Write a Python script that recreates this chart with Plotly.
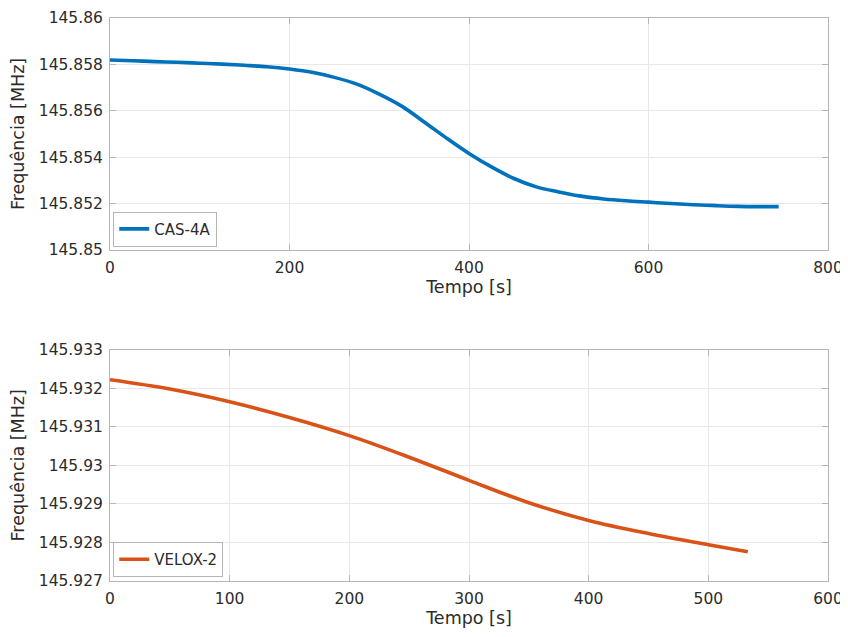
import plotly.graph_objects as go
from plotly.subplots import make_subplots

# CAS-4A data (time in s, frequency in MHz)
cas_t = [0, 25, 50, 75, 100, 125, 150, 175, 200, 225, 250, 275, 300, 325, 350, 375,
         400, 425, 450, 475, 500, 525, 550, 575, 600, 625, 650, 675, 700, 725, 745]
cas_f = [145.85819, 145.85816, 145.85812, 145.85809, 145.85805, 145.85801, 145.85796,
         145.85790, 145.85780, 145.85766, 145.85744, 145.85715, 145.85672, 145.85620,
         145.85552, 145.85482, 145.85416, 145.85358, 145.85308, 145.85272, 145.85250,
         145.85232, 145.85220, 145.85212, 145.85206, 145.85200, 145.85195, 145.85191,
         145.85188, 145.85187, 145.85187]

# VELOX-2 data
vel_t = [0, 50, 100, 150, 200, 250, 300, 350, 400, 450, 500, 533]
vel_f = [145.93222, 145.93198, 145.93165, 145.93124, 145.93077, 145.93021, 145.92961,
         145.92903, 145.92857, 145.92823, 145.92794, 145.92776]

top_ticks = [145.85, 145.852, 145.854, 145.856, 145.858, 145.86]
top_tick_text = ["145.85", "145.852", "145.854", "145.856", "145.858", "145.86"]
bot_ticks = [145.927, 145.928, 145.929, 145.930, 145.931, 145.932, 145.933]
bot_tick_text = ["145.927", "145.928", "145.929", "145.93", "145.931", "145.932", "145.933"]
top_xticks = [0, 200, 400, 600, 800]
bot_xticks = [0, 100, 200, 300, 400, 500, 600]

TXT = "#2b2b2b"
fig = make_subplots(rows=2, cols=1)

fig.add_trace(go.Scatter(x=cas_t, y=cas_f, mode="lines", name="CAS-4A",
                         line=dict(color="#0072BD", width=3.6, shape="spline", smoothing=1.0),
                         legend="legend"), row=1, col=1)
fig.add_trace(go.Scatter(x=vel_t, y=vel_f, mode="lines", name="VELOX-2",
                         line=dict(color="#D95319", width=3.6, shape="spline", smoothing=1.0),
                         legend="legend2"), row=2, col=1)

axis_common = dict(showgrid=True, gridcolor="#e8e8e8", gridwidth=1,
                   showline=True, linecolor="#b5b5b5", linewidth=1, mirror="ticks",
                   ticks="inside", ticklen=6, tickcolor="#b5b5b5",
                   tickfont=dict(size=15.5, color=TXT), zeroline=False, automargin=False)

fig.update_xaxes(**axis_common)
fig.update_yaxes(**axis_common)

title_font = dict(size=17.5, color=TXT)
fig.update_xaxes(range=[0, 800], tickvals=top_xticks, ticklabelstandoff=3,
                 title=dict(text="Tempo [s]", font=title_font, standoff=4),
                 row=1, col=1)
fig.update_xaxes(range=[0, 600], tickvals=bot_xticks, ticklabelstandoff=3,
                 title=dict(text="Tempo [s]", font=title_font, standoff=4),
                 row=2, col=1)
fig.update_yaxes(range=[145.85, 145.86], tickvals=top_ticks, ticktext=top_tick_text,
                 domain=[0.588, 1.0], ticklabelstandoff=3,
                 title=dict(text="Frequência [MHz]", font=title_font, standoff=9),
                 row=1, col=1)
fig.update_yaxes(range=[145.927, 145.933], tickvals=bot_ticks, ticktext=bot_tick_text,
                 domain=[0.0, 0.411], ticklabelstandoff=3,
                 title=dict(text="Frequência [MHz]", font=title_font, standoff=9),
                 row=2, col=1)

# page body has an 8px margin, so the figure is made 8px smaller and shifted
fig.update_layout(
    width=840, height=629,
    margin=dict(l=102, r=20, t=10, b=56),
    paper_bgcolor="white", plot_bgcolor="white",
    font=dict(family="DejaVu Sans", size=15, color=TXT),
    showlegend=True,
    legend=dict(x=0.0045, y=0.594, xanchor="left", yanchor="bottom",
                bordercolor="#b5b5b5", borderwidth=1, bgcolor="white",
                font=dict(size=15, color=TXT), tracegroupgap=0),
    legend2=dict(x=0.0045, y=0.007, xanchor="left", yanchor="bottom",
                 bordercolor="#b5b5b5", borderwidth=1, bgcolor="white",
                 font=dict(size=15, color=TXT), tracegroupgap=0),
)

fig.write_html("out.html")
